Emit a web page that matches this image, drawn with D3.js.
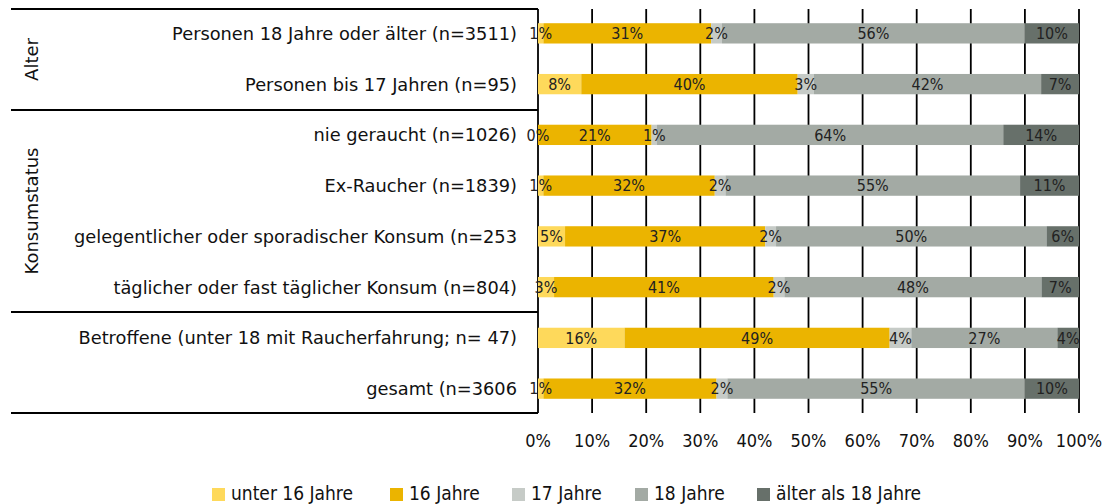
<!DOCTYPE html>
<html>
<head>
<meta charset="utf-8">
<script src="https://cdn.jsdelivr.net/npm/d3@7"></script>
<style>
  body { margin: 0; background: #fff; }
  svg { display: block; }
</style>
</head>
<body>
<div id="chart"></div>
<script>
// Row labels, top to bottom, as printed in the source chart.
var categories = [
    "Personen 18 Jahre oder älter (n=3511)",
    "Personen bis 17 Jahren (n=95)",
    "nie geraucht (n=1026)",
    "Ex-Raucher (n=1839)",
    "gelegentlicher oder sporadischer Konsum (n=253",
    "täglicher oder fast täglicher Konsum (n=804)",
    "Betroffene (unter 18 mit Raucherfahrung; n= 47)",
    "gesamt (n=3606"
];

var seriesNames = ["unter 16 Jahre", "16 Jahre", "17 Jahre", "18 Jahre", "älter als 18 Jahre"];
var seriesColors = ["#fed95b", "#ebb400", "#c6cbc7", "#a3aaa4", "#67706a"];

// Percent values per series, one entry per category.
var unter16 = [1, 8, 0, 1, 5, 3, 16, 1];
var j16     = [31, 40, 21, 32, 37, 41, 49, 32];
var j17     = [2, 3, 1, 2, 2, 2, 4, 2];
var j18     = [56, 42, 64, 55, 50, 48, 27, 55];
var aelter  = [10, 7, 14, 11, 6, 7, 4, 10];

var xTicks = [0, 10, 20, 30, 40, 50, 60, 70, 80, 90, 100];

// Group brackets on the left: name, first row, last row.
var groups = [
    {name: "Alter", from: 0, to: 1},
    {name: "Konsumstatus", from: 2, to: 5}
];
var separators = [0, 2, 6, 8];   // row indices where a horizontal rule is drawn

var width = 1108, height = 504;
// note: 'top' is taken by window.top, so prefix these
var plotLeft = 538, plotRight = 1079, plotTop = 9, plotBottom = 413;

var svg = d3.select("#chart").append("svg")
    .attr("width", width)
    .attr("height", height);

var x = d3.scaleLinear().domain([0, 100]).range([plotLeft, plotRight]);
var y = d3.scaleBand().domain(d3.range(categories.length))
    .range([plotTop, plotBottom]).paddingInner(0.6).paddingOuter(0.28);
var rowStep = (plotBottom - plotTop) / categories.length;

// Build a table that d3.stack can use; widths are normalised so each bar fills 100%.
var table = categories.map(function(c, i){
    var vals = [unter16[i], j16[i], j17[i], j18[i], aelter[i]];
    var sum = d3.sum(vals);
    var row = {label: c};
    seriesNames.forEach(function(s, k){
        row[s] = vals[k] * 100 / sum;
        row[s + "_raw"] = vals[k];
    });
    return row;
});
var stacked = d3.stack().keys(seriesNames)(table);

// Gridlines at every tick.
svg.append("g").selectAll("line")
    .data(xTicks)
    .enter().append("line")
    .attr("x1", function(d){ return x(d); })
    .attr("x2", function(d){ return x(d); })
    .attr("y1", plotTop)
    .attr("y2", plotBottom)
    .style("stroke", "#000")
    .style("stroke-width", 1.8);

// Horizontal rules of the left frame.
svg.append("g").selectAll("line")
    .data(separators)
    .enter().append("line")
    .attr("x1", 11)
    .attr("x2", plotLeft)
    .attr("y1", function(d){ return plotTop + d * rowStep; })
    .attr("y2", function(d){ return plotTop + d * rowStep; })
    .style("stroke", "#000")
    .style("stroke-width", 1.8);

// Bars.
var layer = svg.append("g").selectAll("g")
    .data(stacked)
    .enter().append("g")
    .style("fill", function(d, k){ return seriesColors[k]; });

layer.selectAll("rect")
    .data(function(d){ return d; })
    .enter().append("rect")
    .attr("x", function(d){ return x(d[0]); })
    .attr("width", function(d){ return x(d[1]) - x(d[0]); })
    .attr("y", function(d, i){ return y(i); })
    .attr("height", y.bandwidth());

// Value labels, centred in each segment.
stacked.forEach(function(s){
    svg.append("g").selectAll("text")
        .data(s)
        .enter().append("text")
        .attr("x", function(d){ return x((d[0] + d[1]) / 2); })
        .attr("y", function(d, i){ return y(i) + y.bandwidth() / 2; })
        .attr("dy", "0.36em")
        .attr("text-anchor", "middle")
        .style("font-family", "'DejaVu Sans Condensed', 'DejaVu Sans'")
        .style("font-size", "16px")
        .style("fill", "#222")
        .text(function(d){ return d.data[s.key + "_raw"] + "%"; });
});

// Category labels.
svg.append("g").selectAll("text")
    .data(categories)
    .enter().append("text")
    .attr("x", 517)
    .attr("y", function(d, i){ return y(i) + y.bandwidth() / 2; })
    .attr("dy", "0.36em")
    .attr("text-anchor", "end")
    .style("font-family", "'DejaVu Sans'")
    .style("font-size", "17.8px")
    .style("fill", "#111")
    .text(function(d){ return d; });

// Group labels, rotated.
svg.append("g").selectAll("text")
    .data(groups)
    .enter().append("text")
    .attr("transform", function(d){
        var cy = plotTop + (d.from + d.to + 1) / 2 * rowStep;
        return "translate(32," + cy + ") rotate(-90)";
    })
    .attr("dy", "0.36em")
    .attr("text-anchor", "middle")
    .style("font-family", "'DejaVu Sans'")
    .style("font-size", "18px")
    .style("fill", "#111")
    .text(function(d){ return d.name; });

// Tick labels under the plot.
svg.append("g").selectAll("text")
    .data(xTicks)
    .enter().append("text")
    .attr("x", function(d){ return x(d); })
    .attr("y", 441)
    .attr("dy", "0.36em")
    .attr("text-anchor", "middle")
    .style("font-family", "'DejaVu Sans Condensed', 'DejaVu Sans'")
    .style("font-size", "18px")
    .style("fill", "#111")
    .text(function(d){ return d + "%"; });

// Legend.
var legendX = [212, 390, 512, 635, 757];
var legend = svg.append("g").selectAll("g")
    .data(seriesNames)
    .enter().append("g")
    .attr("transform", function(d, k){ return "translate(" + legendX[k] + ",487)"; });

legend.append("rect")
    .attr("y", 1)
    .attr("width", 13)
    .attr("height", 13)
    .style("fill", function(d, k){ return seriesColors[k]; });

legend.append("text")
    .attr("x", 19)
    .attr("y", 13)
    .style("font-family", "'DejaVu Sans Condensed', 'DejaVu Sans'")
    .style("font-size", "19px")
    .style("fill", "#111")
    .text(function(d){ return d; });
</script>
</body>
</html>
